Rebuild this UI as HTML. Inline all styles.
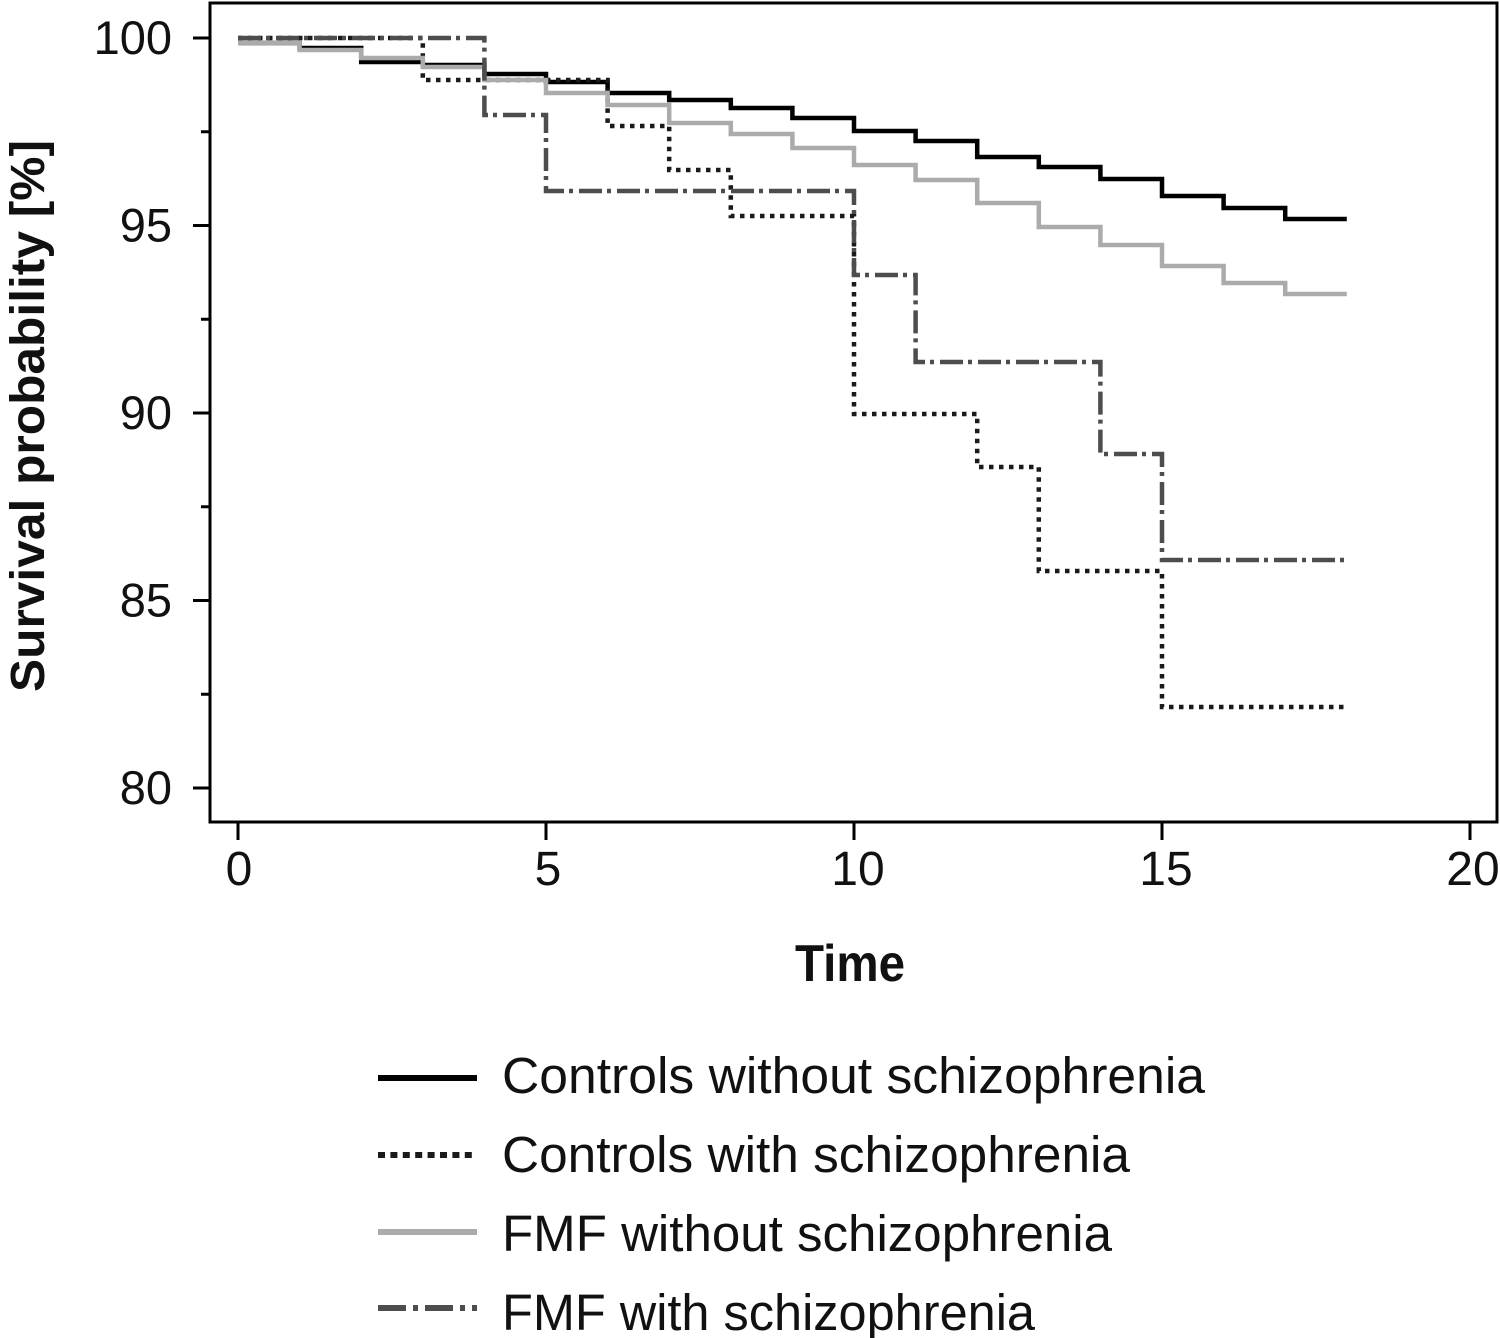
<!DOCTYPE html>
<html>
<head>
<meta charset="utf-8">
<style>
  html, body { margin: 0; padding: 0; background: #fff; }
  svg { display: block; }
  text { font-family: "Liberation Sans", sans-serif; fill: #111; }
</style>
</head>
<body>
<svg width="1500" height="1338" viewBox="0 0 1500 1338" xmlns="http://www.w3.org/2000/svg">
  <rect x="0" y="0" width="1500" height="1338" fill="#fff"/>

  <!-- plot frame -->
  <rect x="210" y="3" width="1287" height="819" fill="none" stroke="#000" stroke-width="3"/>

  <!-- y ticks -->
  <g stroke="#000" stroke-width="3">
    <line x1="193" y1="38" x2="210" y2="38"/>
    <line x1="193" y1="225.5" x2="210" y2="225.5"/>
    <line x1="193" y1="413" x2="210" y2="413"/>
    <line x1="193" y1="600.5" x2="210" y2="600.5"/>
    <line x1="193" y1="788" x2="210" y2="788"/>
    <line x1="201" y1="131.75" x2="210" y2="131.75"/>
    <line x1="201" y1="319.25" x2="210" y2="319.25"/>
    <line x1="201" y1="506.75" x2="210" y2="506.75"/>
    <line x1="201" y1="694.25" x2="210" y2="694.25"/>
  </g>
  <!-- x ticks -->
  <g stroke="#000" stroke-width="3">
    <line x1="238" y1="822" x2="238" y2="840"/>
    <line x1="546" y1="822" x2="546" y2="840"/>
    <line x1="854" y1="822" x2="854" y2="840"/>
    <line x1="1162" y1="822" x2="1162" y2="840"/>
    <line x1="1470" y1="822" x2="1470" y2="840"/>
  </g>

  <!-- y tick labels -->
  <g font-size="47" text-anchor="end">
    <text x="172" y="54">100</text>
    <text x="172" y="241.5">95</text>
    <text x="172" y="429">90</text>
    <text x="172" y="616.5">85</text>
    <text x="172" y="804">80</text>
  </g>
  <!-- x tick labels -->
  <g font-size="48" text-anchor="middle">
    <text x="239" y="885">0</text>
    <text x="548" y="885">5</text>
    <text x="858" y="885">10</text>
    <text x="1166" y="885">15</text>
    <text x="1473" y="885">20</text>
  </g>

  <!-- axis titles -->
  <text x="850" y="981" font-size="52" font-weight="bold" text-anchor="middle" textLength="110" lengthAdjust="spacingAndGlyphs">Time</text>
  <text transform="translate(44,416) rotate(-90)" font-size="48" font-weight="bold" text-anchor="middle" textLength="552" lengthAdjust="spacingAndGlyphs">Survival probability [%]</text>

  <!-- series -->
  <g fill="none" stroke-linejoin="miter" stroke-linecap="butt">
    <!-- Controls without schizophrenia -->
    <path stroke="#000" stroke-width="4.5"
      d="M238,43 H299.6 V48 H361.2 V62 H422.8 V65 H484.4 V74 H546 V82 H607.6 V93 H669.2 V100 H730.8 V108 H792.4 V118 H854 V131 H915.6 V141 H977.2 V157 H1038.8 V167 H1100.4 V179 H1162 V196 H1223.6 V208 H1285.2 V219 H1346.8"/>
    <!-- Controls with schizophrenia -->
    <path stroke="#1a1a1a" stroke-width="4.5" stroke-dasharray="4.5 5.5"
      d="M238,38 H422.8 V80 H607.6 V126 H669.2 V170 H730.8 V216 H854 V414 H977.2 V467 H1038.8 V571 H1162 V707 H1346.8"/>
    <!-- FMF without schizophrenia -->
    <path stroke="#ababab" stroke-width="4.5"
      d="M238,43 H299.6 V50 H361.2 V58 H422.8 V67 H484.4 V80 H546 V93 H607.6 V105 H669.2 V123 H730.8 V134 H792.4 V148 H854 V165 H915.6 V180 H977.2 V203 H1038.8 V227 H1100.4 V245 H1162 V266 H1223.6 V283 H1285.2 V294 H1346.8"/>
    <!-- FMF with schizophrenia -->
    <path stroke="#4d4d4d" stroke-width="4.5" stroke-dasharray="23 5 4 6"
      d="M238,38 H484.4 V115 H546 V191 H854 V275 H915.6 V362 H1100.4 V454 H1162 V560 H1346.8"/>
  </g>

  <!-- legend -->
  <g fill="none" stroke-width="6">
    <line x1="378" y1="1078" x2="477" y2="1078" stroke="#000"/>
    <line x1="378" y1="1155" x2="477" y2="1155" stroke="#1a1a1a" stroke-dasharray="7 5.4"/>
    <line x1="378" y1="1232" x2="477" y2="1232" stroke="#ababab"/>
    <line x1="378" y1="1308" x2="477" y2="1308" stroke="#4d4d4d" stroke-dasharray="28 7 5 7"/>
  </g>
  <g font-size="51">
    <text x="502" y="1093" textLength="703" lengthAdjust="spacingAndGlyphs">Controls without schizophrenia</text>
    <text x="502" y="1172" textLength="628" lengthAdjust="spacingAndGlyphs">Controls with schizophrenia</text>
    <text x="502" y="1251" textLength="610" lengthAdjust="spacingAndGlyphs">FMF without schizophrenia</text>
    <text x="502" y="1330" textLength="533" lengthAdjust="spacingAndGlyphs">FMF with schizophrenia</text>
  </g>
</svg>
</body>
</html>
